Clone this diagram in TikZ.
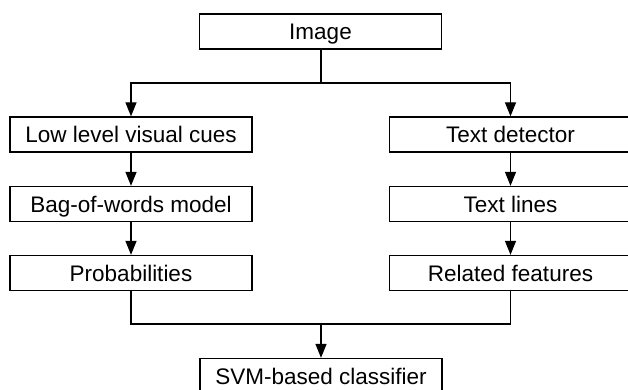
\documentclass[tikz,border=0pt]{standalone}
\usepackage{fontspec}
\setmainfont{Liberation Sans}
\usetikzlibrary{arrows.meta}
\begin{document}
\begin{tikzpicture}[
		x=1pt, y=-1pt,
		stage/.style={draw, line width=1.3pt, minimum width=242pt, minimum height=35pt, inner sep=0pt, text height=16pt, text depth=0pt, font=\fontsize{22.5}{26}\selectfont},
		arrow/.style={-{Triangle[length=14pt,width=11pt]}, line width=1.3pt},
		line/.style={-, line width=1.3pt}
	]
	\useasboundingbox (0,0) rectangle (628,390);
	\clip (0,0) rectangle (628,390);

	% Input
	\node[stage] (img) at (320.5,31.5) {Image};
	\coordinate (split) at (321,83);

	% Visual branch
	\node[stage] (low) at (131,134.5) {Low level visual cues};
	\node[stage] (bag) at (131,204) {Bag-of-words model};
	\node[stage] (prob) at (131,273) {Probabilities};
	\draw[arrow] (low) -- (bag);
	\draw[arrow] (bag) -- (prob);

	% Text branch
	\node[stage] (det) at (510.5,134.5) {Text detector};
	\node[stage] (lines) at (510.5,204) {Text lines};
	\node[stage] (feat) at (510.5,273) {Related features};
	\draw[arrow] (det) -- (lines);
	\draw[arrow] (lines) -- (feat);

	% Split and merge
	\draw[line] (img.south -| split) -- (split);
	\draw[arrow] (split) -| (low);
	\draw[arrow] (split) -| (det);

	\node[stage] (svm) at (321,376) {SVM-based classifier};
	\coordinate (merge) at (321,324);
	\draw[line] (prob) |- (merge);
	\draw[line] (feat) |- (merge);
	\draw[arrow] (merge) -- (svm);

\end{tikzpicture}
\end{document}
